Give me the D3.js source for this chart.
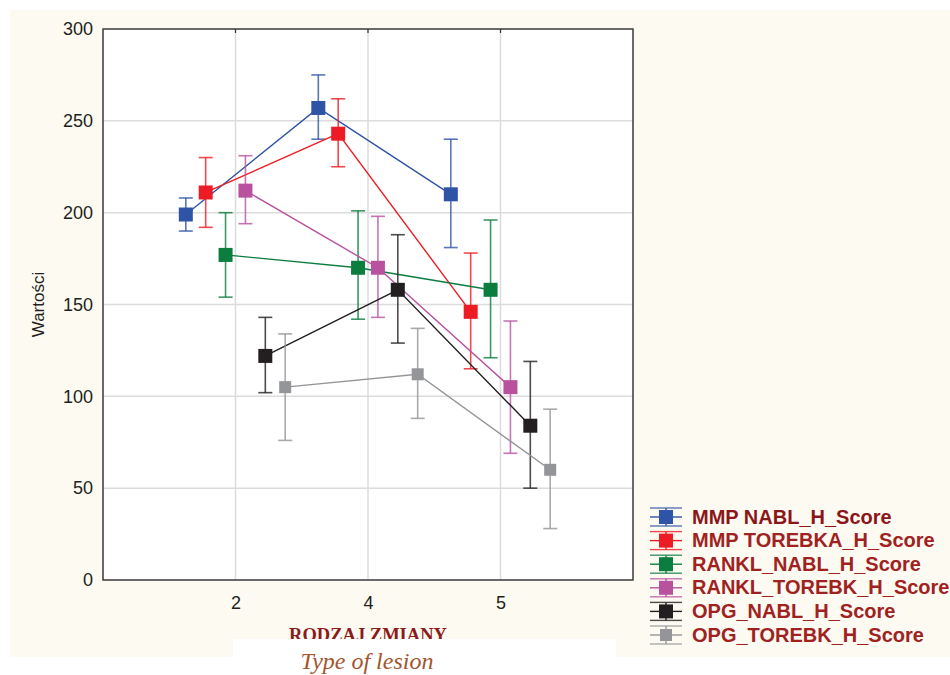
<!DOCTYPE html>
<html>
<head>
<meta charset="utf-8">
<script src="https://cdn.jsdelivr.net/npm/d3@7"></script>
<style>
  body { margin: 0; background: #fff; }
  svg { display: block; }
</style>
</head>
<body>
<div id="chart"></div>
<script>
// categories on the x axis (RODZAJ ZMIANY)
var categories = ["2", "4", "5"];
var yTicks = [0, 50, 100, 150, 200, 250, 300];

var seriesNames = [
  "MMP NABL_H_Score",
  "MMP TOREBKA_H_Score",
  "RANKL_NABL_H_Score",
  "RANKL_TOREBK_H_Score",
  "OPG_NABL_H_Score",
  "OPG_TOREBK_H_Score"
];
var seriesColors = ["#2f54a6", "#ed1c24", "#0b7d3e", "#b8529f", "#231f20", "#939598"];

// means and whisker ends
var mmpNabl      = [199, 257, 210];
var mmpNablLo    = [190, 240, 181];
var mmpNablHi    = [208, 275, 240];
var mmpTor       = [211, 243, 146];
var mmpTorLo     = [192, 225, 115];
var mmpTorHi     = [230, 262, 178];
var ranklNabl    = [177, 170, 158];
var ranklNablLo  = [154, 142, 121];
var ranklNablHi  = [200, 201, 196];
var ranklTor     = [212, 170, 105];
var ranklTorLo   = [194, 143, 69];
var ranklTorHi   = [231, 198, 141];
var opgNabl      = [122, 158, 84];
var opgNablLo    = [102, 129, 50];
var opgNablHi    = [143, 188, 119];
var opgTor       = [105, 112, 60];
var opgTorLo     = [76, 88, 28];
var opgTorHi     = [134, 137, 93];

var means = [mmpNabl, mmpTor, ranklNabl, ranklTor, opgNabl, opgTor];
var lows  = [mmpNablLo, mmpTorLo, ranklNablLo, ranklTorLo, opgNablLo, opgTorLo];
var highs = [mmpNablHi, mmpTorHi, ranklNablHi, ranklTorHi, opgNablHi, opgTorHi];

var W = 950, H = 675;
var plot = {left: 103, right: 633, top: 29, bottom: 580};

var svg = d3.select("#chart").append("svg")
    .attr("width", W)
    .attr("height", H);

// cream page background
svg.append("rect")
    .attr("x", 10).attr("y", 10)
    .attr("width", W - 10).attr("height", 647)
    .attr("fill", "#fdfaf2");

svg.append("rect")
    .attr("x", plot.left).attr("y", plot.top)
    .attr("width", plot.right - plot.left).attr("height", plot.bottom - plot.top)
    .attr("fill", "#fff");

var x = d3.scalePoint()
    .domain(categories)
    .range([plot.left, plot.right])
    .padding(1);

var y = d3.scaleLinear()
    .domain([0, 300])
    .range([plot.bottom, plot.top]);

var step = x.step();
function offset(i) { return (i - 2.5) * step * 0.15; }

// grid
svg.append("g").selectAll("line.vg")
    .data(categories)
    .enter().append("line")
    .attr("x1", d => x(d)).attr("x2", d => x(d))
    .attr("y1", plot.top).attr("y2", plot.bottom)
    .attr("stroke", "#dcdcdc").attr("stroke-width", 1.5);

svg.append("g").selectAll("line.hg")
    .data(yTicks.slice(1, -1))
    .enter().append("line")
    .attr("x1", plot.left).attr("x2", plot.right)
    .attr("y1", d => y(d)).attr("y2", d => y(d))
    .attr("stroke", "#dcdcdc").attr("stroke-width", 1.5);

// y axis labels
var yAxis = d3.axisLeft(y).tickValues(yTicks).tickSize(0).tickPadding(10);
var gy = svg.append("g")
    .attr("transform", "translate(" + plot.left + ",0)")
    .call(yAxis);
gy.select(".domain").remove();
gy.selectAll("text")
    .attr("font-family", "Liberation Sans, Arial, sans-serif")
    .attr("font-size", 18)
    .attr("fill", "#231f20");

// x axis labels
var xAxis = d3.axisBottom(x).tickSize(0).tickPadding(16);
var gx = svg.append("g")
    .attr("transform", "translate(0," + plot.bottom + ")")
    .call(xAxis);
gx.select(".domain").remove();
gx.selectAll("text")
    .attr("font-family", "Liberation Sans, Arial, sans-serif")
    .attr("font-size", 18)
    .attr("fill", "#231f20");

// small inward ticks on the frame
svg.append("g").selectAll("line")
    .data(categories)
    .enter().append("line")
    .attr("x1", d => x(d)).attr("x2", d => x(d))
    .attr("y1", plot.top).attr("y2", plot.top + 4)
    .attr("stroke", "#333").attr("stroke-width", 1.2);

// series
means.forEach(function(vals, i) {
  var col = seriesColors[i];
  var g = svg.append("g");
  var pts = vals.map(function(v, k) {
    return {cx: x(categories[k]) + offset(i), v: v, lo: lows[i][k], hi: highs[i][k]};
  });

  var line = d3.line().x(d => d.cx).y(d => y(d.v));
  g.append("path")
      .attr("d", line(pts))
      .attr("fill", "none")
      .attr("stroke", col)
      .attr("stroke-width", 1.4);

  var eb = g.selectAll("g.eb").data(pts).enter().append("g")
      .attr("stroke", col)
      .attr("stroke-opacity", 0.8)
      .attr("stroke-width", 1.6);
  eb.append("line")
      .attr("x1", d => d.cx).attr("x2", d => d.cx)
      .attr("y1", d => y(d.lo)).attr("y2", d => y(d.hi));
  eb.append("line")
      .attr("x1", d => d.cx - 7).attr("x2", d => d.cx + 7)
      .attr("y1", d => y(d.hi)).attr("y2", d => y(d.hi));
  eb.append("line")
      .attr("x1", d => d.cx - 7).attr("x2", d => d.cx + 7)
      .attr("y1", d => y(d.lo)).attr("y2", d => y(d.lo));

  var sz = i === 5 ? 12 : 14;
  g.selectAll("rect").data(pts).enter().append("rect")
      .attr("x", d => d.cx - sz / 2)
      .attr("y", d => y(d.v) - sz / 2)
      .attr("width", sz).attr("height", sz)
      .attr("fill", col);
});

// frame
svg.append("rect")
    .attr("x", plot.left).attr("y", plot.top)
    .attr("width", plot.right - plot.left).attr("height", plot.bottom - plot.top)
    .attr("fill", "none")
    .attr("stroke", "#3a3a3a")
    .attr("stroke-width", 1.5);

// y title
svg.append("text")
    .attr("transform", "translate(44," + ((plot.top + plot.bottom) / 2) + ") rotate(-90)")
    .attr("text-anchor", "middle")
    .attr("font-family", "Liberation Sans, Arial, sans-serif")
    .attr("font-size", 17)
    .attr("fill", "#231f20")
    .text("Wartości");

// x title (partly hidden by the caption box)
svg.append("text")
    .attr("x", 368).attr("y", 641)
    .attr("text-anchor", "middle")
    .attr("font-family", "Liberation Serif, Times New Roman, serif")
    .attr("font-weight", "bold")
    .attr("font-size", 18.5)
    .attr("fill", "#8b1a1a")
    .text("RODZAJ ZMIANY");

svg.append("rect")
    .attr("x", 10).attr("y", 657)
    .attr("width", 223).attr("height", 18)
    .attr("fill", "#fff");
svg.append("rect")
    .attr("x", 233).attr("y", 639)
    .attr("width", 383).attr("height", 36)
    .attr("fill", "#fff");

svg.append("text")
    .attr("x", 367).attr("y", 669)
    .attr("text-anchor", "middle")
    .attr("font-family", "Liberation Serif, Times New Roman, serif")
    .attr("font-style", "italic")
    .attr("font-size", 24)
    .attr("fill", "#a4552d")
    .text("Type of lesion");

// legend
var legend = svg.append("g");
var rows = legend.selectAll("g").data(seriesNames).enter().append("g")
    .attr("transform", (d, i) => "translate(666," + (517 + i * 23.6) + ")");
rows.append("line")
    .attr("x1", -16).attr("x2", 16).attr("y1", -9).attr("y2", -9)
    .attr("stroke", (d, i) => seriesColors[i]).attr("stroke-opacity", 0.8).attr("stroke-width", 1.4);
rows.append("line")
    .attr("x1", -16).attr("x2", 16).attr("y1", 9).attr("y2", 9)
    .attr("stroke", (d, i) => seriesColors[i]).attr("stroke-opacity", 0.8).attr("stroke-width", 1.4);
rows.append("line")
    .attr("x1", -16).attr("x2", 16).attr("y1", 0).attr("y2", 0)
    .attr("stroke", (d, i) => seriesColors[i]).attr("stroke-width", 1.4);
rows.append("line")
    .attr("x1", 0).attr("x2", 0).attr("y1", -9).attr("y2", 9)
    .attr("stroke", (d, i) => seriesColors[i]).attr("stroke-width", 1.4);
rows.append("rect")
    .attr("x", (d, i) => i === 5 ? -6 : -7).attr("y", (d, i) => i === 5 ? -6 : -7)
    .attr("width", (d, i) => i === 5 ? 12 : 14).attr("height", (d, i) => i === 5 ? 12 : 14)
    .attr("fill", (d, i) => seriesColors[i]);
rows.append("text")
    .attr("x", 26).attr("y", 6.5)
    .attr("font-family", "Liberation Sans, Arial, sans-serif")
    .attr("font-weight", "bold")
    .attr("font-size", 20)
    .attr("fill", (d, i) => i === 0 ? "#8c1519" : "#a0221f")
    .text(d => d);
</script>
</body>
</html>
